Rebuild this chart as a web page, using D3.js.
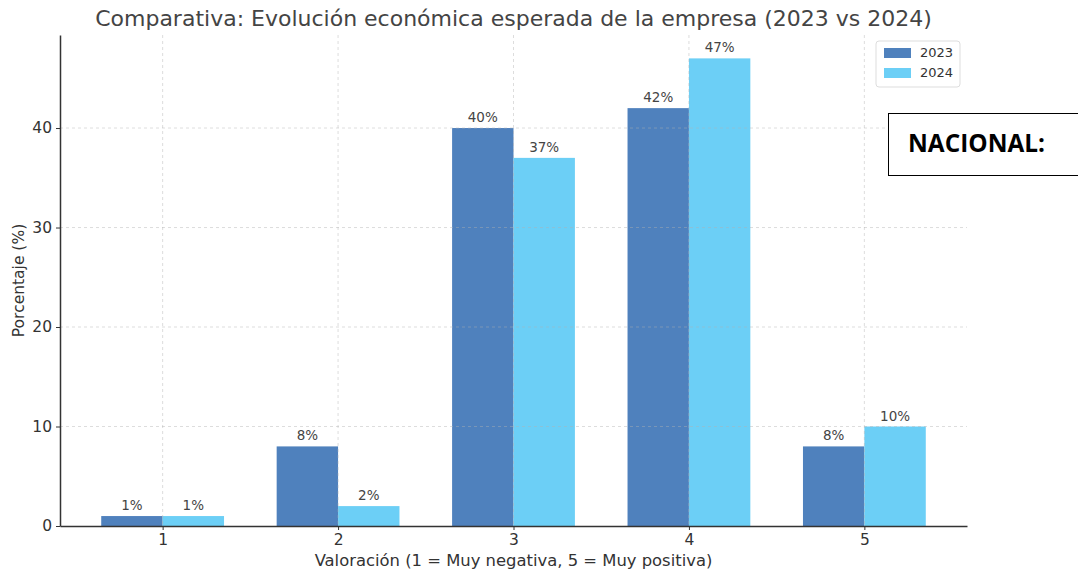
<!DOCTYPE html>
<html>
<head>
<meta charset="utf-8">
<script src="https://cdn.jsdelivr.net/npm/d3@7"></script>
<style>
  body { margin: 0; background: #fff; }
  svg { display: block; }
</style>
</head>
<body>
<div id="chart"></div>
<script>
// Values
var categories = [1, 2, 3, 4, 5];
var years = ["2023", "2024"];
var values2023 = [1, 8, 40, 42, 8];
var values2024 = [1, 2, 37, 47, 10];
var yTicks = [0, 10, 20, 30, 40];

var width = 1078, height = 572;
var margin = { top: 35, right: 111, bottom: 46, left: 60 };

var col2023 = "#4f81bd";
var col2024 = "#6ccff6";
var textCol = "#333333";
var axisCol = "#333333";

var barW = 0.35;

var svg = d3.select("#chart").append("svg")
    .attr("width", width)
    .attr("height", height);

// matplotlib style limits: bars span 0.65..5.35, 5% padding
var x = d3.scaleLinear()
    .domain([1 - barW - 0.235, 5 + barW + 0.235])
    .range([margin.left, width - margin.right]);

var y = d3.scaleLinear()
    .domain([0, d3.max(values2024.concat(values2023)) * 1.05])
    .range([height - margin.bottom, margin.top]);

var series = [
  { name: years[0], vals: values2023, color: col2023, off: -barW },
  { name: years[1], vals: values2024, color: col2024, off: 0 }
];

// bars
series.forEach(function(s) {
  svg.append("g").selectAll("rect")
    .data(categories)
    .enter().append("rect")
    .attr("x", (d, i) => x(d + s.off))
    .attr("width", x(barW) - x(0))
    .attr("y", (d, i) => y(s.vals[i]))
    .attr("height", (d, i) => y(0) - y(s.vals[i]))
    .attr("fill", s.color);

  svg.append("g").selectAll("text")
    .data(categories)
    .enter().append("text")
    .attr("x", d => x(d + s.off + barW / 2))
    .attr("y", (d, i) => y(s.vals[i]) - 6)
    .attr("text-anchor", "middle")
    .attr("font-family", "DejaVu Sans")
    .attr("font-size", 13.5)
    .attr("fill", "#444")
    .text((d, i) => s.vals[i] + "%");
});

// grid (drawn on top, light dashed)
var grid = svg.append("g")
    .attr("stroke", "#b0b0b0")
    .attr("stroke-opacity", 0.55)
    .attr("stroke-dasharray", "3,3")
    .attr("stroke-width", 0.8);
grid.selectAll("line.h").data(yTicks.slice(1)).enter().append("line")
    .attr("x1", margin.left).attr("x2", width - margin.right)
    .attr("y1", d => y(d)).attr("y2", d => y(d));
grid.selectAll("line.v").data(categories).enter().append("line")
    .attr("x1", d => x(d)).attr("x2", d => x(d))
    .attr("y1", margin.top).attr("y2", y(0));

// axes
var xAxis = svg.append("g")
    .attr("transform", `translate(0,${y(0)})`)
    .call(d3.axisBottom(x).tickValues(categories).tickFormat(d3.format("d"))
      .tickSize(4).tickPadding(4).tickSizeOuter(0));
var yAxis = svg.append("g")
    .attr("transform", `translate(${margin.left},0)`)
    .call(d3.axisLeft(y).tickValues(yTicks).tickSize(4).tickPadding(4).tickSizeOuter(0));

[xAxis, yAxis].forEach(function(a) {
  a.select(".domain").attr("stroke", axisCol).attr("stroke-width", 1.5);
  a.selectAll(".tick line").attr("stroke", axisCol).attr("stroke-width", 1);
  a.selectAll(".tick text")
    .attr("font-family", "DejaVu Sans")
    .attr("font-size", 15.5)
    .attr("fill", textCol);
});

// title + axis labels
svg.append("text")
    .attr("x", (margin.left + width - margin.right) / 2)
    .attr("y", 26)
    .attr("text-anchor", "middle")
    .attr("font-family", "DejaVu Sans")
    .attr("font-size", 22)
    .attr("fill", "#444")
    .text("Comparativa: Evolución económica esperada de la empresa (2023 vs 2024)");

svg.append("text")
    .attr("x", (margin.left + width - margin.right) / 2)
    .attr("y", 566)
    .attr("text-anchor", "middle")
    .attr("font-family", "DejaVu Sans")
    .attr("font-size", 16.4)
    .attr("fill", textCol)
    .text("Valoración (1 = Muy negativa, 5 = Muy positiva)");

svg.append("text")
    .attr("transform", `translate(24,${(margin.top + y(0)) / 2}) rotate(-90)`)
    .attr("text-anchor", "middle")
    .attr("font-family", "DejaVu Sans")
    .attr("font-size", 15.5)
    .attr("fill", textCol)
    .text("Porcentaje (%)");

// legend
var lg = svg.append("g").attr("transform", "translate(876,41)");
lg.append("rect")
    .attr("width", 84).attr("height", 46).attr("rx", 3)
    .attr("fill", "#fff").attr("stroke", "#dddddd");
series.forEach(function(s, i) {
  lg.append("rect")
    .attr("x", 8).attr("y", 7 + i * 20)
    .attr("width", 27).attr("height", 10)
    .attr("fill", s.color);
  lg.append("text")
    .attr("x", 44).attr("y", 16 + i * 20)
    .attr("font-family", "DejaVu Sans")
    .attr("font-size", 13)
    .attr("fill", textCol)
    .text(s.name);
});

// "NACIONAL:" box
svg.append("rect")
    .attr("x", 888.5).attr("y", 113.5)
    .attr("width", 200).attr("height", 62)
    .attr("fill", "#fff").attr("stroke", "#000").attr("stroke-width", 1);
svg.append("text")
    .attr("x", 908).attr("y", 152)
    .attr("font-family", "Open Sans")
    .attr("font-weight", "bold")
    .attr("font-size", 25)
    .attr("textLength", 137)
    .attr("lengthAdjust", "spacingAndGlyphs")
    .attr("fill", "#000")
    .text("NACIONAL:");
</script>
</body>
</html>
